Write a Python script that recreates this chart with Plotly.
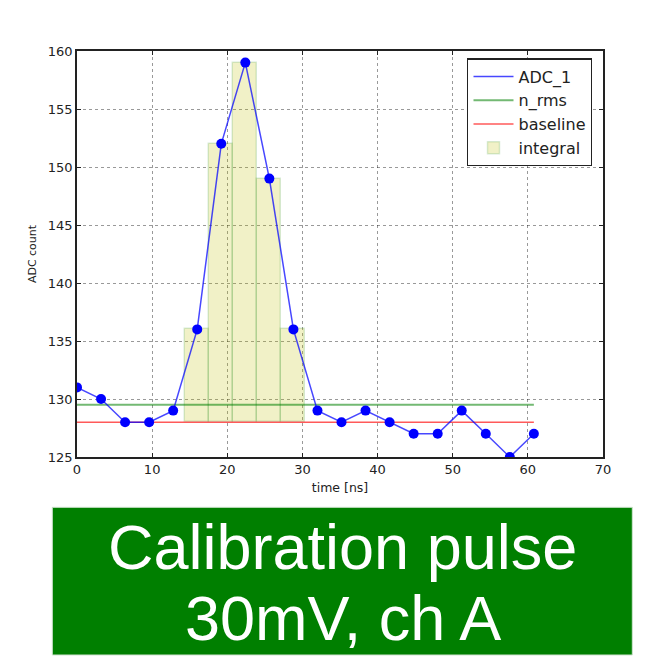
import plotly.graph_objects as go

# ---- data ----
time_ns = [0.0, 3.2, 6.4, 9.6, 12.8, 16.0, 19.2, 22.4, 25.6, 28.8,
           32.0, 35.2, 38.4, 41.6, 44.8, 48.0, 51.2, 54.4, 57.6, 60.8]
adc_1 = [131, 130, 128, 128, 129, 136, 152, 159, 149, 136,
         129, 128, 129, 128, 127, 127, 129, 127, 125, 127]
integral_times = [16.0, 19.2, 22.4, 25.6, 28.8]
integral_values = [136, 152, 159, 149, 136]
baseline_value = 128.0
n_rms_value = 129.5
sample_width = 3.2
banner_lines = ["Calibration pulse", "30mV, ch A"]

# ---- layout geometry (pixels) ----
W = H = 658
ML, MR, MT, MB = 77, 55, 51, 201
PW = W - ML - MR
PH = H - MT - MB


def px(xp):
    return (xp - ML) / PW


def py(yp):
    return (H - MB - yp) / PH


fig = go.Figure()

# integral bars (from baseline to sample value)
fig.add_trace(go.Bar(
    x=integral_times,
    y=[v - baseline_value for v in integral_values],
    base=baseline_value,
    width=sample_width,
    name="integral",
    marker=dict(color="rgba(191,191,0,0.22)",
                line=dict(color="rgba(0,128,0,0.15)", width=1.5)),
    legendrank=4,
    legendgroup="g4",
))

# n_rms line
fig.add_trace(go.Scatter(
    x=[time_ns[0], time_ns[-1]], y=[n_rms_value, n_rms_value],
    mode="lines", name="n_rms",
    line=dict(color="rgba(0,128,0,0.55)", width=2),
    legendrank=2, legendgroup="g2",
))

# baseline line
fig.add_trace(go.Scatter(
    x=[time_ns[0], time_ns[-1]], y=[baseline_value, baseline_value],
    mode="lines", name="baseline",
    line=dict(color="rgba(255,0,0,0.65)", width=1.5),
    legendrank=3, legendgroup="g3",
))

# ADC line
fig.add_trace(go.Scatter(
    x=time_ns, y=adc_1, mode="lines", name="ADC_1",
    line=dict(color="rgba(0,0,255,0.72)", width=1.5),
    legendrank=1, legendgroup="g1",
))
# ADC markers
fig.add_trace(go.Scatter(
    x=time_ns, y=adc_1, mode="markers", showlegend=False,
    marker=dict(color="#0000ff", size=10, line=dict(width=0)),
))

axis_common = dict(
    showline=True, linecolor="#222", linewidth=1.5, mirror="ticks",
    ticks="inside", ticklen=4, tickcolor="#222", tickwidth=1,
    showgrid=True, gridcolor="rgba(0,0,0,0.4)", griddash="dot", gridwidth=1,
    zeroline=False,
    tickfont=dict(family="DejaVu Sans", size=13, color="#222"),
)

fig.update_xaxes(range=[0, 70], dtick=10, tick0=0,
                 title=dict(text="time [ns]", font=dict(family="DejaVu Sans", size=12.5, color="#222"), standoff=7),
                 **axis_common)
fig.update_yaxes(range=[125, 160], dtick=5, tick0=125,
                 title=dict(text="ADC count", font=dict(family="DejaVu Sans", size=11, color="#222"), standoff=9),
                 **axis_common)

# banner
fig.add_shape(type="rect", xref="paper", yref="paper",
              x0=px(52.3), x1=px(632.3), y0=py(655), y1=py(507.3),
              fillcolor="#007f00", line=dict(color="#cfe3cf", width=1), layer="above")
fig.add_annotation(xref="paper", yref="paper", x=px(342.5), y=py(546.7),
                   text=banner_lines[0], showarrow=False, xanchor="center", yanchor="middle",
                   font=dict(family="Liberation Sans", size=63, color="white"))
fig.add_annotation(xref="paper", yref="paper", x=px(342.5), y=py(618.3),
                   text=banner_lines[1], showarrow=False, xanchor="center", yanchor="middle",
                   font=dict(family="Liberation Sans", size=63, color="white"))

fig.update_layout(
    width=W, height=H,
    margin=dict(l=ML, r=MR, t=MT, b=MB),
    paper_bgcolor="white", plot_bgcolor="white",
    bargap=0,
    font=dict(family="DejaVu Sans", color="#222"),
    legend=dict(
        x=px(467.3), y=py(58.3), xanchor="left", yanchor="top",
        bordercolor="#222", borderwidth=1.2, bgcolor="white",
        font=dict(family="DejaVu Sans", size=16, color="#222"),
        tracegroupgap=0, traceorder="grouped", itemwidth=40,
    ),
)

fig.write_html("out.html")
